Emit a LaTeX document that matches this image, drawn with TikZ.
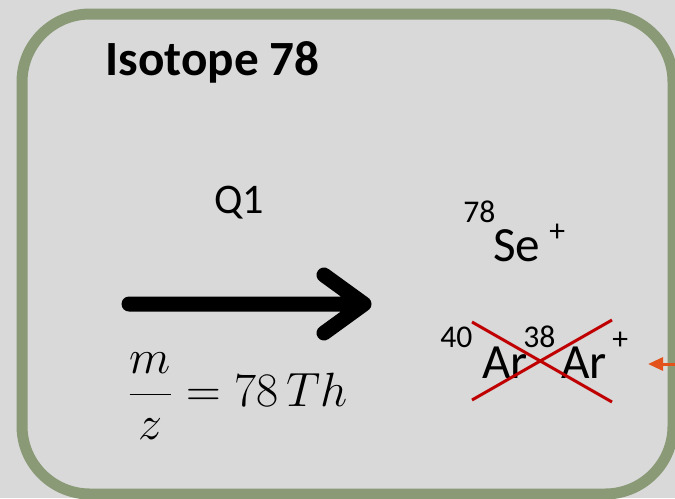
\documentclass[tikz,border=0pt]{standalone}
\usepackage[no-math]{fontspec}
\setmainfont{Carlito}
\usetikzlibrary{arrows.meta}
\definecolor{panelgray}{HTML}{D9D9D9}
\definecolor{boxgreen}{HTML}{8A9A76}
\definecolor{crossred}{HTML}{C00000}
\definecolor{feedorange}{HTML}{E4521B}
\begin{document}
\begin{tikzpicture}[x=.2mm,y=-.2mm,>=Stealth,every node/.style={inner sep=0pt,anchor=base west},
  bigtxt/.style={font=\fontsize{28}{32}\selectfont},smalltxt/.style={font=\fontsize{18}{20}\selectfont},
  crossline/.style={draw=crossred,line width=.6mm}]
\useasboundingbox (0,0) rectangle (675,498);
\fill[panelgray] (0,0) rectangle (675,498);
\draw[boxgreen,line width=2.2mm,rounded corners=13.6mm] (22,14) rectangle (673,494);
\node[font=\fontsize{28}{32}\selectfont\bfseries] (title) at (105,75){Isotope 78};
\node[font=\fontsize{24}{28}\selectfont,anchor=base] (q1) at (239,213){Q1};
\coordinate (shaft) at (129,304);\coordinate (tip) at (364,304);
\draw[line width=3mm,line cap=round,line join=round] (shaft)--(tip) (tip)++(-40,-29)--(tip)--++(-40,29);
\node[font=\fontsize{24}{28}\selectfont,scale=1.1] (mz) at (127,406){$\displaystyle\frac{m}{z}=78\,Th$};
\node[smalltxt] (semass) at (463,222){78};\node[bigtxt] (se) at (493,261){Se};\node[smalltxt] (secharge) at (549,241){+};
\node[smalltxt] (armassa) at (440,347){40};\node[bigtxt] (ara) at (482,378){Ar};\node[smalltxt] (armassb) at (523,347){38};\node[bigtxt] (arb) at (561,378){Ar};\node[smalltxt] (archarge) at (612,349){+};
\coordinate (xa) at (472,322);\coordinate (xb) at (612,402);\coordinate (xc) at (472,400);\coordinate (xd) at (612,320);
\draw[crossline] (xa)--(xb) (xc)--(xd);
\coordinate (feed) at (680,364);\coordinate (feedtip) at (648,364);
\draw[feedorange,line width=.6mm,-{Triangle[length=3mm,width=2.6mm]}] (feed)--(feedtip);
\end{tikzpicture}
\end{document}
